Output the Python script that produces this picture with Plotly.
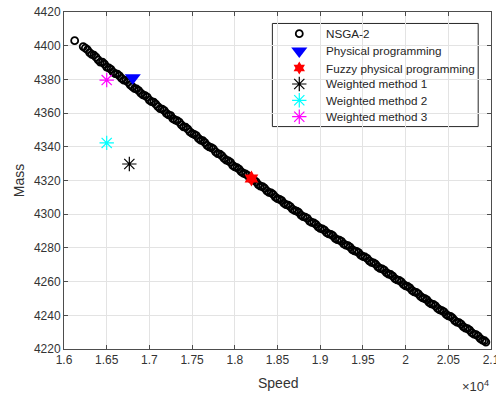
import plotly.graph_objects as go

# Pareto front found by NSGA-2 (speed, mass)
nsga_speed = [
    16125, 16225, 16250, 16275, 16300, 16325, 16350, 16375, 16400, 16425,
    16450, 16475, 16500, 16525, 16550, 16575, 16600, 16625, 16650, 16675,
    16700, 16725, 16750, 16775, 16800, 16825, 16850, 16875, 16900, 16925,
    16950, 16975, 17000, 17025, 17050, 17075, 17100, 17125, 17150, 17175,
    17200, 17225, 17250, 17275, 17300, 17325, 17350, 17375, 17400, 17425,
    17450, 17475, 17500, 17525, 17550, 17575, 17600, 17625, 17650, 17675,
    17700, 17725, 17750, 17775, 17800, 17825, 17850, 17875, 17900, 17925,
    17950, 17975, 18000, 18025, 18050, 18075, 18100, 18125, 18150, 18175,
    18200, 18225, 18250, 18275, 18300, 18325, 18350, 18375, 18400, 18425,
    18450, 18475, 18500, 18525, 18550, 18575, 18600, 18625, 18650, 18675,
    18700, 18725, 18750, 18775, 18800, 18825, 18850, 18875, 18900, 18925,
    18950, 18975, 19000, 19025, 19050, 19075, 19100, 19125, 19150, 19175,
    19200, 19225, 19250, 19275, 19300, 19325, 19350, 19375, 19400, 19425,
    19450, 19475, 19500, 19525, 19550, 19575, 19600, 19625, 19650, 19675,
    19700, 19725, 19750, 19775, 19800, 19825, 19850, 19875, 19900, 19925,
    19950, 19975, 20000, 20025, 20050, 20075, 20100, 20125, 20150, 20175,
    20200, 20225, 20250, 20275, 20300, 20325, 20350, 20375, 20400, 20425,
    20450, 20475, 20500, 20525, 20550, 20575, 20600, 20625, 20650, 20675,
    20700, 20725, 20750, 20775, 20800, 20825, 20850, 20875, 20900, 20925,
    20940,
]
nsga_mass = [
    4403.0, 4399.5, 4398.6, 4397.6, 4395.9, 4394.9, 4394.4, 4393.2, 4391.6, 4390.3,
    4390.2, 4389.0, 4387.3, 4386.8, 4385.9, 4384.3, 4383.4, 4383.1, 4382.1, 4380.6,
    4379.6, 4379.4, 4378.3, 4376.8, 4375.7, 4374.6, 4374.3, 4373.3, 4371.8, 4370.8,
    4370.4, 4369.5, 4367.7, 4366.8, 4366.5, 4365.3, 4363.8, 4362.7, 4362.4, 4361.5,
    4359.8, 4359.0, 4358.5, 4356.7, 4355.9, 4355.5, 4354.6, 4353.0, 4351.8, 4351.6,
    4350.5, 4348.8, 4347.9, 4347.4, 4346.6, 4345.0, 4343.9, 4343.6, 4342.5, 4340.9,
    4340.0, 4339.5, 4338.7, 4337.0, 4336.0, 4335.6, 4334.6, 4333.1, 4332.1, 4331.7,
    4330.7, 4329.0, 4328.1, 4327.6, 4326.8, 4325.2, 4324.3, 4323.9, 4323.0, 4321.5,
    4320.5, 4320.2, 4319.2, 4317.6, 4316.7, 4316.3, 4315.4, 4313.9, 4313.0, 4312.6,
    4311.7, 4310.1, 4309.2, 4308.8, 4308.0, 4306.5, 4305.7, 4305.4, 4304.5, 4303.0,
    4302.2, 4301.8, 4301.0, 4299.5, 4298.6, 4298.3, 4297.5, 4295.9, 4295.1, 4294.8,
    4294.0, 4292.5, 4291.6, 4291.3, 4290.5, 4289.0, 4288.3, 4288.0, 4287.2, 4285.7,
    4284.9, 4284.6, 4283.9, 4282.4, 4281.6, 4281.3, 4280.5, 4279.0, 4278.2, 4277.9,
    4277.2, 4275.7, 4274.9, 4274.6, 4273.8, 4272.3, 4271.4, 4271.1, 4270.3, 4268.8,
    4267.9, 4267.6, 4266.8, 4265.3, 4264.5, 4264.2, 4263.3, 4261.8, 4261.0, 4260.7,
    4259.8, 4258.3, 4257.5, 4257.1, 4256.3, 4254.8, 4253.9, 4253.6, 4252.7, 4251.2,
    4250.3, 4249.9, 4249.1, 4247.6, 4246.8, 4246.5, 4245.6, 4244.1, 4243.2, 4242.8,
    4242.0, 4240.5, 4239.6, 4239.3, 4238.4, 4236.9, 4236.0, 4235.7, 4234.8, 4233.3,
    4232.4, 4232.1, 4231.2, 4229.7, 4228.8, 4228.5, 4227.6, 4226.1, 4225.2, 4224.9,
    4224.1,
]

# Single solutions of the other methods
physical_speed, physical_mass = [16805], [4381.0]
fuzzy_speed, fuzzy_mass = [18195], [4321.2]
w1_speed, w1_mass = [16765], [4329.8]
w2_speed, w2_mass = [16500], [4342.3]
w3_speed, w3_mass = [16500], [4379.6]

x_ticks = [16000, 16500, 17000, 17500, 18000, 18500, 19000, 19500, 20000, 20500, 21000]
x_tick_text = ["1.6", "1.65", "1.7", "1.75", "1.8", "1.85", "1.9", "1.95", "2", "2.05", "2.1"]
y_ticks = [4220, 4240, 4260, 4280, 4300, 4320, 4340, 4360, 4380, 4400, 4420]

FONT = "Liberation Sans, Arial, Helvetica, sans-serif"
TEXT = "#333333"

# marker styles shared by the plot and the legend box
styles = {
    "NSGA-2": dict(symbol="circle-open", size=7, color="black",
                   line=dict(width=1.8, color="black")),
    "Physical programming": dict(symbol="triangle-down", size=14, color="#0000ff",
                                 line=dict(width=0)),
    "Fuzzy physical programming": dict(symbol="hexagram", size=12, color="#ff0000",
                                       line=dict(width=0)),
    "Weighted method 1": dict(symbol="asterisk-open", size=12, color="#000000",
                              line=dict(width=1.2, color="#000000")),
    "Weighted method 2": dict(symbol="asterisk-open", size=12, color="#00ffff",
                              line=dict(width=1.2, color="#00ffff")),
    "Weighted method 3": dict(symbol="asterisk-open", size=12, color="#ff00ff",
                              line=dict(width=1.2, color="#ff00ff")),
}
series = [
    ("NSGA-2", nsga_speed, nsga_mass),
    ("Physical programming", physical_speed, physical_mass),
    ("Fuzzy physical programming", fuzzy_speed, fuzzy_mass),
    ("Weighted method 1", w1_speed, w1_mass),
    ("Weighted method 2", w2_speed, w2_mass),
    ("Weighted method 3", w3_speed, w3_mass),
]

fig = go.Figure()
for name, sx, sy in series:
    fig.add_trace(go.Scatter(x=sx, y=sy, mode="markers", name=name,
                             marker=styles[name], showlegend=False))

# Legend box, laid out in plot-area fractions on an overlay axis pair
leg_left, leg_right, leg_bottom, leg_top = 0.488, 0.970, 0.660, 0.966
leg_symbol_x, leg_text_x = 0.551, 0.609
leg_rows = [0.9356, 0.8843, 0.8338, 0.7864, 0.7380, 0.6893]

for (name, _, _), ry in zip(series, leg_rows):
    legend_marker = dict(styles[name])
    if name == "Fuzzy physical programming":
        legend_marker["size"] = 10
    fig.add_trace(go.Scatter(x=[leg_symbol_x], y=[ry], mode="markers",
                             marker=legend_marker, showlegend=False,
                             hoverinfo="skip", xaxis="x2", yaxis="y2"))

axis_common = dict(
    showgrid=True, gridcolor="#e3e3e3", gridwidth=1,
    showline=True, linecolor="#4d4d4d", linewidth=1, mirror="ticks",
    ticks="inside", ticklen=4, tickcolor="#4d4d4d", tickwidth=1,
    zeroline=False, automargin=False,
    tickfont=dict(family=FONT, size=12, color=TEXT),
)

annotations = [
    dict(text="Speed", x=0.5, y=-0.101, xref="paper", yref="paper",
         xanchor="center", yanchor="middle", showarrow=False,
         font=dict(family=FONT, size=14, color=TEXT)),
    dict(text="Mass", x=-0.106, y=0.5, xref="paper", yref="paper",
         xanchor="center", yanchor="middle", showarrow=False, textangle=-90,
         font=dict(family=FONT, size=14, color=TEXT)),
    dict(text="×10<sup>4</sup>", x=1.0, y=-0.11, xref="paper", yref="paper",
         xanchor="right", yanchor="middle", showarrow=False,
         font=dict(family=FONT, size=13, color=TEXT)),
]
for (name, _, _), ry in zip(series, leg_rows):
    annotations.append(dict(text=name, x=leg_text_x, y=ry, xref="paper", yref="paper",
                            xanchor="left", yanchor="middle", showarrow=False,
                            font=dict(family=FONT, size=11.7, color="#262626")))

fig.update_layout(
    width=496, height=397,
    margin=dict(l=64, r=5, t=12, b=48, autoexpand=False),
    paper_bgcolor="white", plot_bgcolor="white",
    font=dict(family=FONT, size=12, color=TEXT),
    xaxis=dict(range=[16000, 21000], tickvals=x_ticks, ticktext=x_tick_text,
               ticklabeloverflow="allow", **axis_common),
    yaxis=dict(range=[4220, 4420], tickvals=y_ticks, **axis_common),
    xaxis2=dict(overlaying="x", range=[0, 1], visible=False, fixedrange=True),
    yaxis2=dict(overlaying="y", range=[0, 1], visible=False, fixedrange=True),
    showlegend=False,
    shapes=[dict(type="rect", xref="paper", yref="paper",
                 x0=leg_left, x1=leg_right, y0=leg_bottom, y1=leg_top,
                 fillcolor="white", line=dict(color="#262626", width=1),
                 layer="between")],
    annotations=annotations,
)

fig.write_html("out.html")
